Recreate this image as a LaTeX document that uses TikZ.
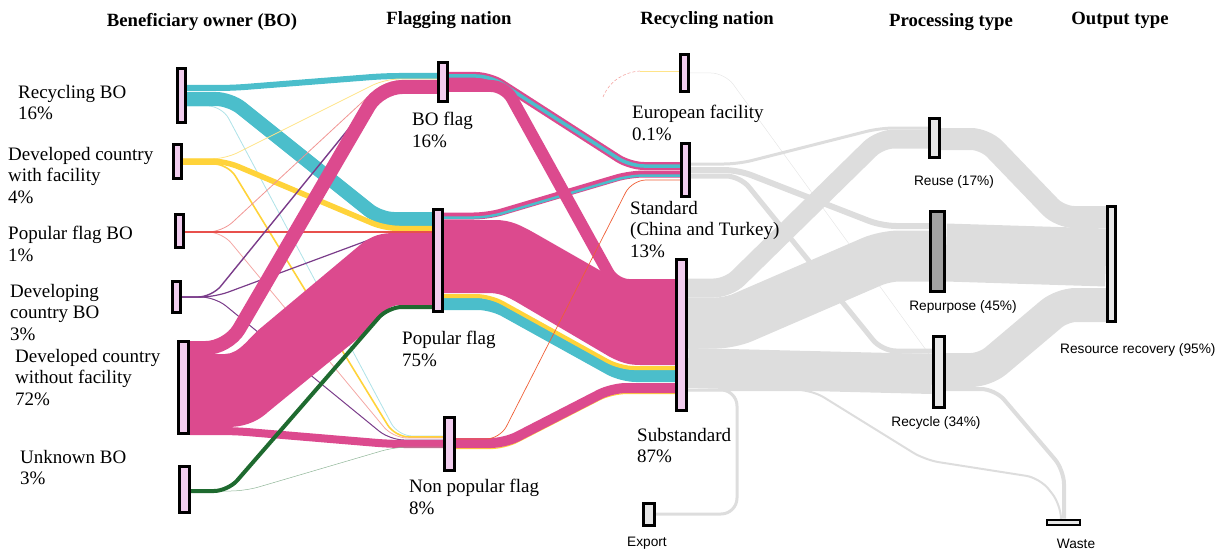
\documentclass[tikz,border=0pt]{standalone}
\usepackage{fontspec}
\setmainfont{Liberation Serif}
\setsansfont{Liberation Sans}
\usepackage{tikz}
\usetikzlibrary{positioning}
\usetikzlibrary{calc}
\definecolor{tealc}{HTML}{4BBECB}
\definecolor{yellowc}{HTML}{FFD33A}
\definecolor{pinkc}{HTML}{DC4A8E}
\definecolor{redc}{HTML}{E8504C}
\definecolor{purplec}{HTML}{7A3C8A}
\definecolor{greenc}{HTML}{1E6A2F}
\definecolor{grayc}{HTML}{DDDDDD}
\definecolor{barpink}{HTML}{F1CDEE}
\definecolor{bargray}{HTML}{E7E7E7}
\definecolor{bardark}{HTML}{A0A0A0}
\pgfdeclarelayer{flows}
\pgfsetlayers{flows,main}
\tikzstyle{barnode}=[draw=black,line width=2.8pt,fill=barpink,inner sep=0pt,minimum width=8.2pt]
\tikzstyle{graybar}=[barnode,fill=bargray]
\tikzstyle{flow}=[rounded corners=14pt]
\tikzstyle{head}=[font=\bfseries\fontsize{18.7}{22}\selectfont,inner sep=0pt]
\tikzstyle{lbl}=[anchor=north west,align=left,inner sep=0pt,font=\fontsize{19}{21.5}\selectfont]
\tikzstyle{slbl}=[font=\sffamily\fontsize{13.7}{16}\selectfont,inner sep=0pt]

\begin{document}
\begin{tikzpicture}[x=1pt,y=-1pt]
	\useasboundingbox (0,0) rectangle (1227,551);
	
	% Headers
	\node[head] (h1) at (202,22) {Beneficiary owner (BO)};
	\node[head] (h2) at (449,20) {Flagging nation};
	\node[head] (h3) at (707,20) {Recycling nation};
	\node[head] (h4) at (951,22) {Processing type};
	\node[head] (h5) at (1120,20) {Output type};
	
	% Beneficiary owner
	\node[barnode,minimum height=54.2pt] (rbo) at (181.5,95.5) {};
	\node[barnode,minimum height=34.2pt] (dwf) at (177.5,161.5) {};
	\node[barnode,minimum height=33.2pt] (pfb) at (179.5,231) {};
	\node[barnode,minimum height=31.2pt] (dcb) at (176.5,297) {};
	\node[barnode,minimum width=10.2pt,minimum height=92.2pt] (dnf) at (183.5,387.5) {};
	\node[barnode,minimum width=10.2pt,minimum height=46.2pt] (ukb) at (184.5,489.5) {};
	\node[lbl] (lrbo) at (18,85) {Recycling BO\\16\%};
	\node[lbl] (ldwf) at (8,147) {Developed country\\with facility\\4\%};
	\node[lbl] (lpfb) at (8,226) {Popular flag BO\\1\%};
	\node[lbl] (ldcb) at (10,284) {Developing\\country BO\\3\%};
	\node[lbl] (ldnf) at (15,349) {Developed country\\without facility\\72\%};
	\node[lbl] (lukb) at (20,450) {Unknown BO\\3\%};
	
	% Flagging nation
	\node[barnode,minimum width=9.2pt,minimum height=39.2pt] (bof) at (443,82) {};
	\node[barnode,minimum width=9.2pt,minimum height=102.2pt] (pof) at (438,260.5) {};
	\node[barnode,minimum width=10.2pt,minimum height=53.2pt] (npf) at (449.5,444) {};
	\node[lbl] (lbof) at (412,112) {BO flag\\16\%};
	\node[lbl] (lpof) at (402,331) {Popular flag\\75\%};
	\node[lbl] (lnpf) at (409,479) {Non popular flag\\8\%};
	
	% Recycling nation
	\node[barnode,minimum height=37.2pt] (eur) at (684.5,73) {};
	\node[barnode,minimum height=53.2pt] (std) at (685.5,170) {};
	\node[barnode,minimum width=10.2pt,minimum height=151.2pt] (sub) at (681.5,335) {};
	\node[graybar,minimum width=11.2pt,minimum height=22.2pt] (exp) at (649,514.5) {};
	\node[lbl] (leur) at (632,105) {European facility\\0.1\%};
	\node[lbl] (lstd) at (630,201) {Standard\\(China and Turkey)\\13\%};
	\node[lbl] (lsub) at (637,428) {Substandard\\87\%};
	\node[slbl] (lexp) at (647,543) {Export};
	
	% Processing and output
	\node[graybar,minimum width=10.2pt,minimum height=39.2pt] (reu) at (934.5,138) {};
	\node[graybar,fill=bardark,minimum width=14.2pt,minimum height=80.2pt] (rep) at (937.5,251.5) {};
	\node[graybar,minimum width=11.2pt,minimum height=71.2pt] (rec) at (939,372) {};
	\node[graybar,minimum height=115.2pt] (rr) at (1111.5,264) {};
	\node[graybar,line width=2pt,minimum width=33pt,minimum height=5pt] (was) at (1063.5,522) {};
	\node[slbl] (lreu) at (954,182) {Reuse (17\%)};
	\node[slbl] (lrep) at (963,307) {Repurpose (45\%)};
	\node[slbl] (lrec) at (936,423) {Recycle (34\%)};
	\node[slbl,anchor=west] (lrr) at (1060,350) {Resource recovery (95\%)};
	\node[slbl] (lwas) at (1076,544) {Waste};
	
	\begin{pgfonlayer}{flows}
	% Gray flows
	\draw[flow,grayc!70,line width=0.5pt] (eur.east |- 0,73) -- (725,73) -- (942,372) -- (rec.west |- 0,372);
	\draw[flow,grayc,line width=3pt] (std.east |- 0,164) -- (738,164) -- (880,128) -- (reu.west |- 0,128);
	\draw[flow,grayc,line width=6pt] (std.east |- 0,170) -- (738,170) -- (882,226) -- (rep.west |- 0,226);
	\draw[flow,grayc,line width=5pt] (std.east |- 0,176) -- (740,176) -- (882,351) -- (rec.west |- 0,351);
	\draw[flow,grayc,line width=19pt] (sub.east |- 0,288) -- (728,288) -- (880,139) -- (reu.west |- 0,139);
	\draw[flow,grayc,line width=51pt] (sub.east |- 0,323) -- (730,323) -- (885,256) -- (rep.west |- 0,256);
	\draw[grayc,line width=40pt] (sub.east |- 0,368) -- (rec.west |- 0,374);
	\draw[flow,grayc,line width=3pt,rounded corners=16pt] (sub.east |- 0,390) -- (737,390) -- (737,514) -- (exp.east |- 0,514);
	\draw[flow,grayc,line width=2pt] (sub.east |- 0,390) -- (812,390) -- (925,460) -- (1040,478) -- (1061,505) -- (was.north -| 1061,0);
	\draw[flow,grayc,line width=22pt] (reu.east |- 0,139) -- (985,139) -- (1060,217) -- (rr.west |- 0,217);
	\draw[grayc,line width=58pt] (rep.east |- 0,252.5) -- (rr.west |- 0,257.5);
	\draw[flow,grayc,line width=34pt] (rec.east |- 0,370) -- (985,370) -- (1062,305) -- (rr.west |- 0,305);
	\draw[flow,grayc,line width=4pt] (rec.east |- 0,389) -- (995,389) -- (1064,470) -- (was.north -| 1064,0);
	
	% Flagging nation to recycling nation
	\draw[yellowc!60,line width=0.6pt] (640,71) -- (eur.west |- 0,71);
	\draw[redc!50,line width=0.6pt,dash pattern=on 3pt off 2pt] (603,97) .. controls (610,80) and (625,72) .. (640,71);
	\draw[flow,pinkc,line width=8pt] (bof.east |- 0,76) -- (490,76) -- (630,166) -- (std.west |- 0,166);
	\draw[flow,tealc,line width=3.5pt] (bof.east |- 0,76) -- (490,76) -- (630,166) -- (std.west |- 0,166);
	\draw[flow,pinkc,line width=7pt] (pof.east |- 0,216) -- (488,216) -- (630,174) -- (std.west |- 0,174);
	\draw[flow,tealc,line width=2.5pt] (pof.east |- 0,217.5) -- (488,217.5) -- (630,175.5) -- (std.west |- 0,175.5);
	\draw[flow,tealc,line width=12pt] (pof.east |- 0,304) -- (492,304) -- (622,376) -- (sub.west |- 0,376);
	\draw[flow,yellowc,line width=4pt] (pof.east |- 0,296) -- (490,296) -- (620,368) -- (sub.west |- 0,368);
	\fill[pinkc] (pof.east |- 0,220) -- (495,220) .. controls (512,220) and (522,226) .. (538,235) -- (608,275) .. controls (622,286) and (632,291) .. (648,291) -- (sub.west |- 0,291) -- (sub.west |- 0,365) -- (640,365) .. controls (628,365) and (620,362) .. (610,357) -- (520,304) .. controls (505,295) and (498,293) .. (488,293) -- (pof.east |- 0,293) -- cycle;
	\draw[flow,pinkc,line width=12pt] (bof.east |- 0,86) -- (505,86) -- (615,285) -- (sub.west |- 0,285);
	\draw[flow,yellowc,line width=1.2pt] (npf.east |- 0,448.5) -- (505,448.5) -- (612,393.5) -- (sub.west |- 0,393.5);
	\draw[flow,pinkc,line width=10pt] (npf.east |- 0,443) -- (505,443) -- (612,388) -- (sub.west |- 0,388);
	\draw[flow,redc!70!orange,line width=0.7pt] (npf.east |- 0,439) -- (500,439) -- (632,180) -- (std.west |- 0,180);
	
	% Beneficiary owner to flagging nation
	\draw[flow,tealc!45,line width=0.8pt] (rbo.east |- 0,106) -- (222,106) -- (398,436) -- (npf.west |- 0,436);
	\draw[flow,tealc,line width=6pt] (rbo.east |- 0,88) -- (232,88) -- (385,76) -- (bof.west |- 0,76);
	\draw[flow,tealc,line width=14pt] (rbo.east |- 0,99) -- (230,99) -- (380,219) -- (pof.west |- 0,219);
	\draw[flow,yellowc!60,line width=0.8pt] (dwf.east |- 0,159) -- (225,159) -- (385,79) -- (bof.west |- 0,79);
	\draw[flow,yellowc,line width=5.5pt] (dwf.east |- 0,161) -- (225,161) -- (385,228.5) -- (pof.west |- 0,228.5);
	\draw[flow,yellowc,line width=1.6pt] (dwf.east |- 0,164) -- (228,164) -- (395,437) -- (npf.west |- 0,437);
	\draw[flow,redc!60,line width=0.8pt] (pfb.east |- 0,232) -- (222,232) -- (385,81) -- (bof.west |- 0,81);
	\draw[flow,redc!50,line width=0.8pt] (pfb.east |- 0,232) -- (222,232) -- (393,438) -- (npf.west |- 0,438);
	\draw[redc,line width=1.8pt] (pfb.east |- 0,232) -- (pof.west |- 0,232);
	\draw[flow,purplec,line width=1.4pt] (dcb.east |- 0,297) -- (212,297) -- (385,84) -- (bof.west |- 0,84);
	\draw[flow,purplec,line width=1.2pt] (dcb.east |- 0,297) -- (215,297) -- (385,234) -- (pof.west |- 0,234);
	\draw[flow,purplec,line width=1pt] (dcb.east |- 0,297) -- (215,297) -- (390,440) -- (npf.west |- 0,440);
	\fill[pinkc] (dnf.east |- 0,354) -- (225,354) .. controls (240,354) and (250,336) .. (262,327) -- (360,245) .. controls (372,235) and (382,233) .. (395,233) -- (pof.west |- 0,233) -- (pof.west |- 0,305) -- (400,305) .. controls (388,305) and (380,315) .. (372,327) -- (268,412) .. controls (255,424) and (240,427) .. (228,427) -- (dnf.east |- 0,427) -- cycle;
	\draw[flow,pinkc,line width=8pt] (dnf.east |- 0,431) -- (235,431) -- (390,444) -- (npf.west |- 0,444);
	\draw[flow,pinkc,line width=14pt,rounded corners=22pt] (dnf.east |- 0,348) -- (228,348) -- (380,87) -- (bof.west |- 0,87);
	\draw[flow,greenc!50,line width=0.5pt] (ukb.east |- 0,491) -- (245,491) -- (395,447) -- (npf.west |- 0,447);
	\draw[flow,greenc,line width=4pt] (ukb.east |- 0,491) -- (228,491) -- (388,307) -- (pof.west |- 0,307);
	\end{pgfonlayer}
	
\end{tikzpicture}
\end{document}
